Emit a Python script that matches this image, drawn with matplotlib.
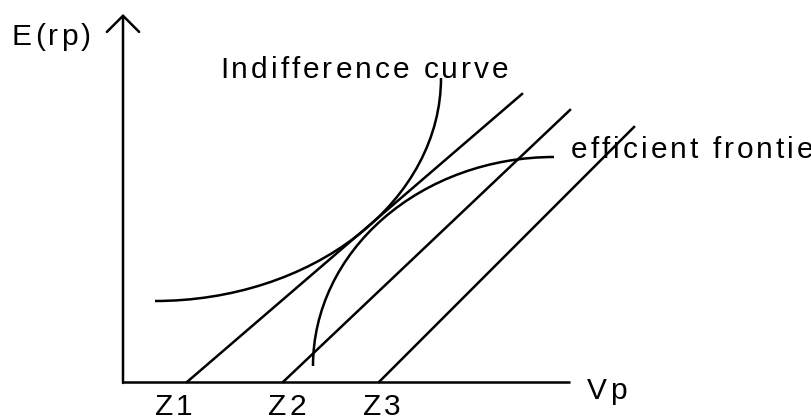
import matplotlib
matplotlib.use("Agg")
import matplotlib.pyplot as plt
from matplotlib.patches import Arc
from matplotlib import font_manager
from matplotlib.ft2font import FT2Font

# axis extents (origin at the corner where the axes meet)
y_axis_top = 368
x_axis_end = 447

# budget lines: start on the Vp axis, end point up and right
line_starts = [64, 160, 256]
line_ends = [(399, 288), (447, 272), (511, 255)]
line_names = ["Z1", "Z2", "Z3"]
name_x = [32, 145, 240]

# efficient frontier: quarter ellipse (centre, width, height)
frontier_centre = (431, 16)
frontier_size = (482, 418)

# indifference curve: quarter ellipse (centre, width, height)
indiff_centre = (32, 304)
indiff_size = (572, 446)

FONT = "Liberation Sans"
FSIZE = 21.5
SPACING = 3.0  # extra pixels between letters
LW = 1.8

fig = plt.figure(figsize=(8.12, 4.19), dpi=100)
ax = fig.add_axes([0, 0, 1, 1])
ax.set_xlim(-123, 689)
ax.set_ylim(-37, 382)
ax.axis("off")

font_path = font_manager.findfont(font_manager.FontProperties(family=FONT))
ft = FT2Font(font_path)
ft.set_size(FSIZE, 100)


def spaced_text(x, y, s):
    # place letters one by one so the word gets wider tracking
    for ch in s:
        ax.text(x, y, ch, family=FONT, fontsize=FSIZE, ha="left", va="baseline")
        g = ft.load_char(ord(ch))
        x += g.linearHoriAdvance / 65536.0 + SPACING


# axes
ax.annotate("", xy=(0, y_axis_top), xytext=(0, -1),
            arrowprops=dict(arrowstyle="->,head_length=0.4,head_width=0.4",
                            lw=LW, color="black", mutation_scale=29,
                            shrinkA=0, shrinkB=0))
ax.plot([0, x_axis_end], [0, 0], color="black", lw=LW, solid_capstyle="butt")

# lines
for x0, (x1, y1) in zip(line_starts, line_ends):
    ax.plot([x0, x1], [0, y1], color="black", lw=LW)

ax.add_patch(Arc(frontier_centre, frontier_size[0], frontier_size[1],
                 theta1=90, theta2=180, color="black", lw=LW))
ax.add_patch(Arc(indiff_centre, indiff_size[0], indiff_size[1],
                 theta1=270, theta2=360, color="black", lw=LW))

# labels
spaced_text(-111, 337, "E(rp)")
spaced_text(97, 304, "Indifference curve")
spaced_text(448, 224, "efficient frontier")
spaced_text(464, -17, "Vp")
for nx, name in zip(name_x, line_names):
    spaced_text(nx, -33, name)

fig.savefig("out.png", dpi=100)
